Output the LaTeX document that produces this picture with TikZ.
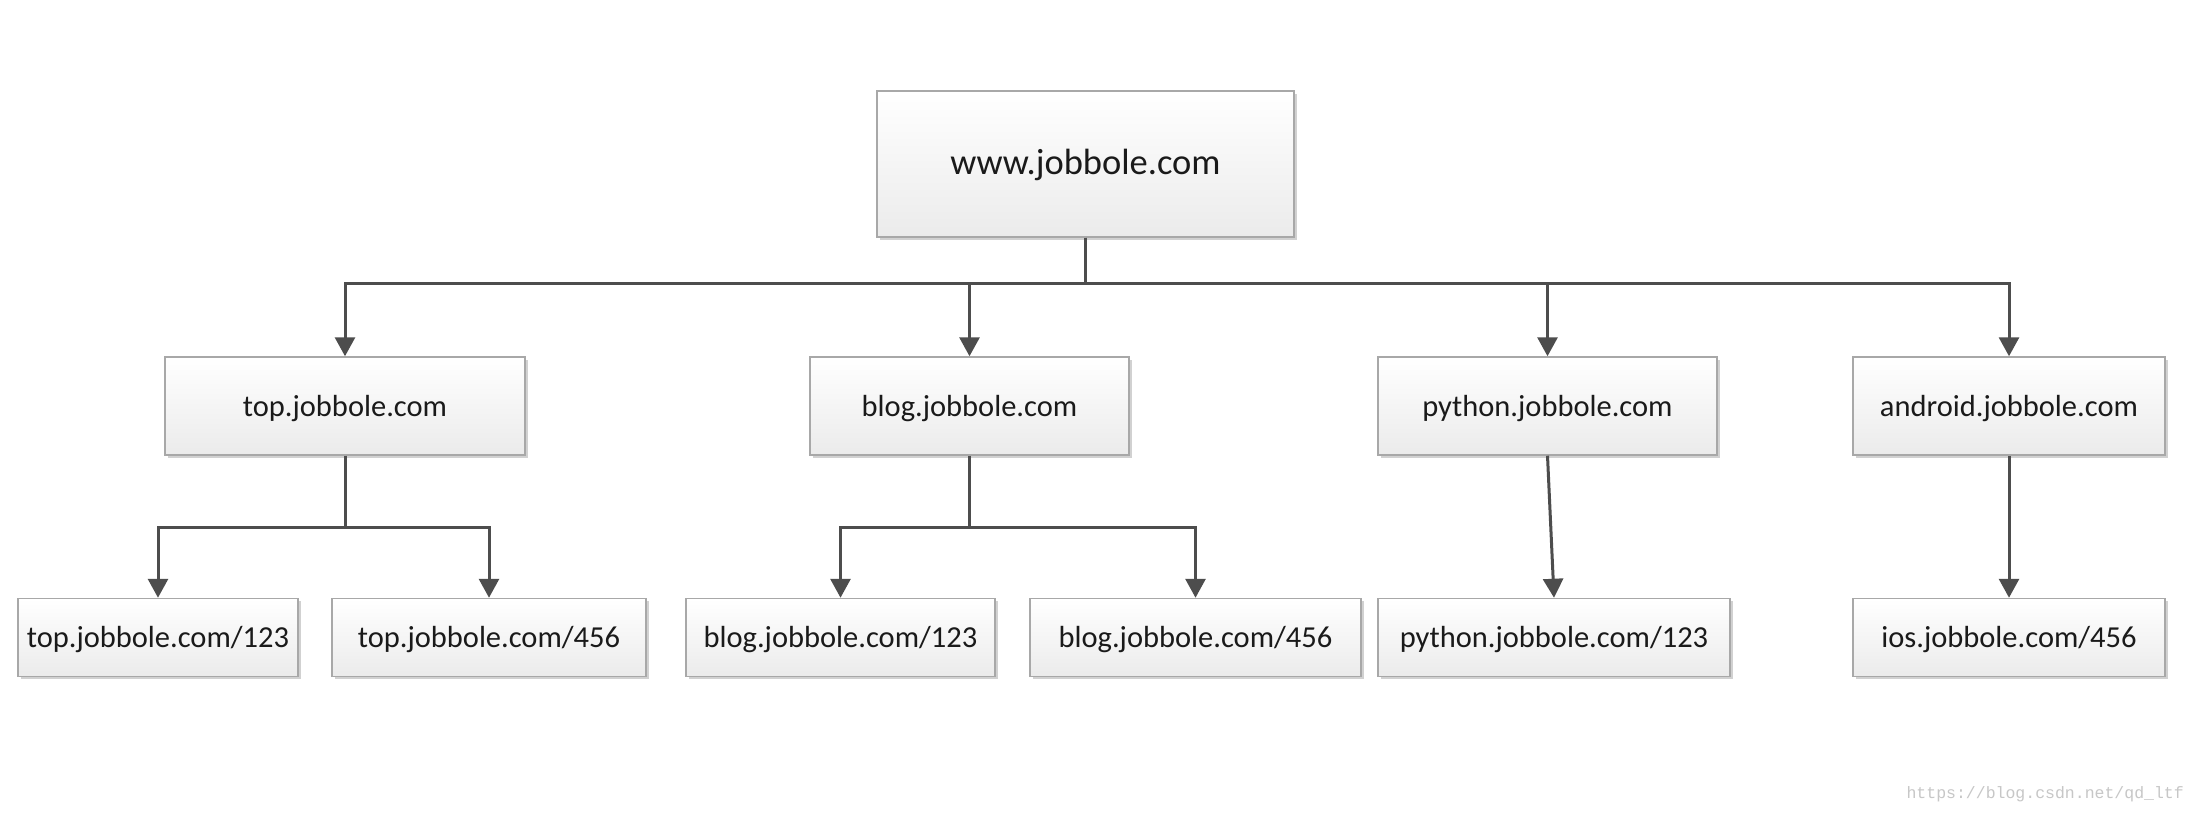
\documentclass[tikz,border=0pt]{standalone}
\usepackage{fontspec}
\setmainfont{Carlito}
\newfontfamily\wmfont{Liberation Mono}
\usetikzlibrary{arrows.meta,shadows}
\definecolor{linegray}{HTML}{4D4D4D}
\definecolor{boxborder}{HTML}{A8A8A8}
\definecolor{boxbottom}{HTML}{EBEBEB}
\definecolor{txt}{HTML}{1A1A1A}
\begin{document}
\begin{tikzpicture}[x=1pt,y=-1pt,
  box/.style={draw=boxborder, line width=1.5pt, top color=white, bottom color=boxbottom,
    inner sep=0pt, text=txt, font=\fontsize{30.5}{36}\selectfont,
    text height=27pt, text depth=6.5pt,
    drop shadow={opacity=0.18, shadow xshift=2.5pt, shadow yshift=-2.5pt, fill=black}},
  conn/.style={draw=linegray, line width=3pt},
  arr/.style={conn, -{Triangle[width=20pt,length=19pt]}}]
\useasboundingbox[fill=white] (0,0) rectangle (2194,814);
% top
\node[box, minimum width=417pt, minimum height=146pt, font=\fontsize{36.5}{42}\selectfont,
  text height=28.5pt, text depth=7.5pt] (www) at (1085.5,164) {www.jobbole.com};
% row 2
\node[box, minimum width=360pt, minimum height=98pt] (top) at (345,406) {top.jobbole.com};
\node[box, minimum width=319pt, minimum height=98pt] (blog) at (969.5,406) {blog.jobbole.com};
\node[box, minimum width=339pt, minimum height=98pt] (python) at (1547.5,406) {python.jobbole.com};
\node[box, minimum width=312pt, minimum height=98pt] (android) at (2009,406) {android.jobbole.com};
% row 3
\node[box, minimum width=280pt, minimum height=78pt] (top123) at (158,637.5) {top.jobbole.com/123};
\node[box, minimum width=314pt, minimum height=78pt] (top456) at (489,637.5) {top.jobbole.com/456};
\node[box, minimum width=309pt, minimum height=78pt] (blog123) at (840.5,637.5) {blog.jobbole.com/123};
\node[box, minimum width=331pt, minimum height=78pt] (blog456) at (1195.5,637.5) {blog.jobbole.com/456};
\node[box, minimum width=352pt, minimum height=78pt] (python123) at (1554,637.5) {python.jobbole.com/123};
\node[box, minimum width=312pt, minimum height=78pt] (ios456) at (2009,637.5) {ios.jobbole.com/456};
% connectors
\coordinate (bus) at (1085.5,283);
\draw[arr] (www.south) -- (bus) -| (top.north);
\draw[arr] (www.south) -- (bus) -| (blog.north);
\draw[arr] (www.south) -- (bus) -| (python.north);
\draw[arr] (www.south) -- (bus) -| (android.north);
\coordinate (tbus) at (345,527);
\draw[arr] (top.south) -- (tbus) -| (top123.north);
\draw[arr] (top.south) -- (tbus) -| (top456.north);
\coordinate (bbus) at (969.5,527);
\draw[arr] (blog.south) -- (bbus) -| (blog123.north);
\draw[arr] (blog.south) -- (bbus) -| (blog456.north);
\draw[arr] (python.south) -- (python123.north);
\draw[arr] (android.south) -- (ios456.north);
% watermark
\node[anchor=east, inner sep=0pt, text=black!22, font=\wmfont\fontsize{16.5}{18}\selectfont] (wm) at (2184,794) {https://blog.csdn.net/qd\_ltf};
\end{tikzpicture}
\end{document}
